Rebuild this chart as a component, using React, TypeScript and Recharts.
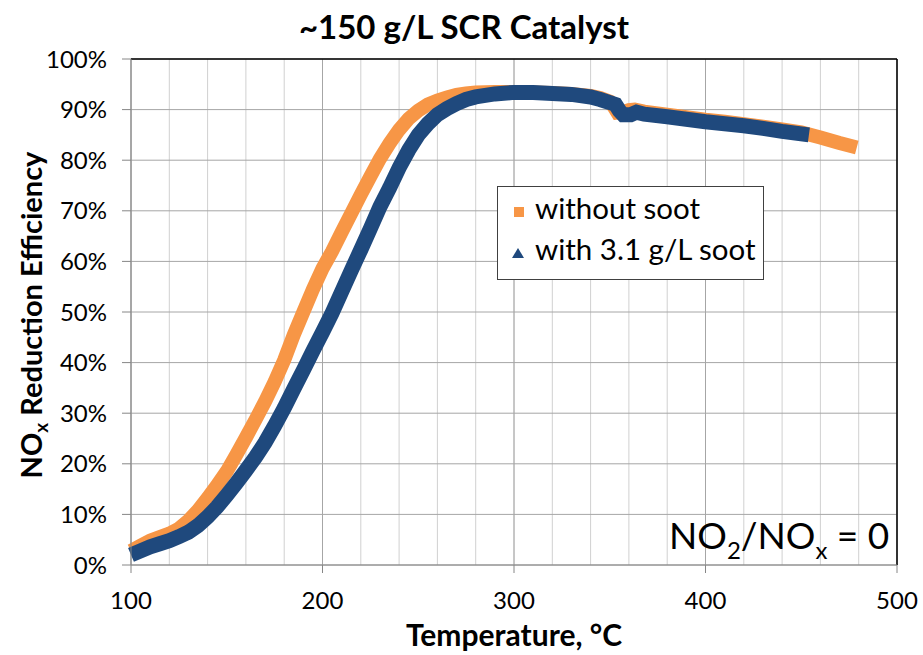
import { LineChart, Line, XAxis, YAxis, CartesianGrid, ReferenceLine, Legend, Label } from "recharts";

const FONT = "Lato, 'Open Sans', sans-serif";
const ORANGE = "#f79646";
const BLUE = "#1f497d";

// without soot
const cleanTemps = [
  100, 105, 110, 115, 120, 125, 130, 135, 140, 145,
  150, 155, 160, 165, 170, 175, 180, 185, 190, 195,
  200, 205, 210, 215, 220, 225, 230, 235, 240, 245,
  250, 255, 260, 265, 270, 275, 280, 290, 300, 310,
  320, 330, 340, 345, 350, 352, 354, 357, 360, 363,
  368, 380, 390, 400, 410, 420, 430, 440, 450, 460,
  470, 479,
];
const cleanEff = [
  2.8, 3.8, 4.8, 5.5, 6.2, 7.2, 8.8, 10.8, 13.2, 15.8,
  18.5, 21.8, 25.2, 28.7, 32.3, 36.2, 40.5, 45.5, 50.0, 54.5,
  58.6, 62.0, 65.8, 69.5, 73.2, 76.8, 80.3, 83.3, 86.0, 88.2,
  89.8, 91.0, 91.8, 92.4, 92.9, 93.2, 93.4, 93.5, 93.5, 93.4,
  93.3, 93.1, 92.7, 92.3, 91.6, 90.6, 89.4, 89.5, 89.9, 90.0,
  89.6, 89.0, 88.5, 88.0, 87.6, 87.1, 86.6, 86.1, 85.5, 84.5,
  83.4, 82.5,
];

// with 3.1 g/L soot
const sootTemps = [
  100, 105, 110, 115, 120, 125, 130, 135, 140, 145,
  150, 155, 160, 165, 170, 175, 180, 185, 190, 195,
  200, 205, 210, 215, 220, 225, 230, 235, 240, 245,
  250, 255, 260, 265, 270, 275, 280, 290, 300, 310,
  320, 330, 340, 345, 350, 353, 355, 357, 361, 364,
  368, 380, 390, 400, 410, 420, 430, 440, 450, 454,
];
const sootEff = [
  2.0, 2.8, 3.6, 4.2, 4.8, 5.6, 6.5, 7.8, 9.5, 11.5,
  13.8, 16.2, 18.7, 21.3, 24.2, 27.5, 31.0, 34.8, 38.5, 42.3,
  46.0, 49.8, 54.0, 58.2, 62.3, 66.5, 70.8, 74.5, 78.5, 82.0,
  85.0, 87.2, 89.0, 90.2, 91.2, 92.0, 92.5, 93.1, 93.4, 93.4,
  93.2, 93.0, 92.5, 92.0, 91.4, 91.0, 89.8, 89.0, 89.0, 89.5,
  89.1, 88.6, 88.1, 87.6, 87.2, 86.8, 86.3, 85.7, 85.2, 85.0,
];

const xTicks = [100, 200, 300, 400, 500];
const xMinorTicks = [
  100, 120, 140, 160, 180, 200, 220, 240, 260, 280,
  300, 320, 340, 360, 380, 400, 420, 440, 460, 480, 500,
];
const yTicks = [0, 10, 20, 30, 40, 50, 60, 70, 80, 90, 100];
const yMinorTicks = [
  0, 2, 4, 6, 8, 10, 12, 14, 16, 18, 20, 22, 24, 26, 28, 30, 32, 34, 36, 38,
  40, 42, 44, 46, 48, 50, 52, 54, 56, 58, 60, 62, 64, 66, 68, 70, 72, 74, 76,
  78, 80, 82, 84, 86, 88, 90, 92, 94, 96, 98, 100,
];

const seriesOrder = ["without soot", "with 3.1 g/L soot"];

const cleanData = cleanTemps.map((t, i) => ({ t, eff: cleanEff[i] }));
const sootData = sootTemps.map((t, i) => ({ t, eff: sootEff[i] }));

const tickStyle = { fill: "#000", fontSize: 24, fontFamily: FONT };

function LegendBox(props: any) {
  const items = [...(props.payload ?? [])].sort(
    (a: any, b: any) => seriesOrder.indexOf(a.value) - seriesOrder.indexOf(b.value)
  );
  return (
    <div
      style={{
        width: 267,
        height: 94,
        boxSizing: "border-box",
        border: "1px solid #404040",
        background: "#fff",
      }}
    >
      <svg width={265} height={92} style={{ display: "block" }}>
        {items.map((item: any, i: number) => {
          const cy = i === 0 ? 25 : 66;
          const icon =
            item.type === "triangle" ? (
              <polygon points={`14,${cy + 5} 26,${cy + 5} 20,${cy - 5}`} fill={item.color} />
            ) : (
              <rect x={16} y={cy - 5} width={10} height={10} fill={item.color} />
            );
          return (
            <g key={item.value}>
              {icon}
              <text x={37} y={cy + 7} fontSize={29.5} fontFamily={FONT} fill="#000">
                {item.value}
              </text>
            </g>
          );
        })}
      </svg>
    </div>
  );
}

function YTitle(props: any) {
  const { viewBox } = props;
  const cx = viewBox.x + 42;
  const cy = viewBox.y + viewBox.height / 2 + 3;
  return (
    <text
      x={cx}
      y={cy}
      transform={`rotate(-90, ${cx}, ${cy})`}
      textAnchor="middle"
      fontSize={29}
      fontWeight={700}
      fontFamily={FONT}
      fill="#000"
    >
      NO
      <tspan fontSize={19} dy={6}>x</tspan>
      <tspan dy={-6}> Reduction Efficiency</tspan>
    </text>
  );
}

function XTitle(props: any) {
  const { viewBox } = props;
  return (
    <text
      x={viewBox.x + viewBox.width / 2}
      y={viewBox.y + 81}
      textAnchor="middle"
      fontSize={30}
      fontWeight={700}
      fontFamily={FONT}
      fill="#000"
    >
      Temperature, °C
    </text>
  );
}

export default function App() {
  return (
    <div
      style={{
        position: "absolute",
        left: 0,
        top: 0,
        width: 923,
        height: 655,
        background: "#fff",
        fontFamily: FONT,
      }}
    >
      <LineChart width={923} height={655} margin={{ top: 59, right: 26, bottom: 0, left: 0 }}>
        <CartesianGrid xAxisId="minor" horizontal={false} stroke="#d0d0d0" />
        <CartesianGrid stroke="#a6a6a6" />
        <XAxis
          xAxisId="minor"
          type="number"
          dataKey="t"
          domain={[100, 500]}
          ticks={xMinorTicks}
          allowDataOverflow
          hide
        />
        <XAxis
          type="number"
          dataKey="t"
          domain={[100, 500]}
          ticks={xTicks}
          height={90}
          tickSize={8}
          tickMargin={19}
          tick={tickStyle}
          axisLine={{ stroke: "#868686" }}
          tickLine={{ stroke: "#868686" }}
        >
          <Label content={XTitle} />
        </XAxis>
        <YAxis
          type="number"
          domain={[0, 100]}
          ticks={yTicks}
          width={131}
          tickSize={9}
          tickMargin={15}
          tick={tickStyle}
          tickFormatter={(v: number) => `${v}%`}
          axisLine={{ stroke: "#868686" }}
          tickLine={{ stroke: "#868686" }}
        >
          <Label content={YTitle} />
        </YAxis>
        <YAxis
          yAxisId="minor"
          type="number"
          domain={[0, 100]}
          ticks={yMinorTicks}
          allowDataOverflow
          mirror
          width={1}
          tickSize={6}
          tick={false}
          axisLine={false}
          tickLine={{ stroke: "#868686" }}
        />
        <ReferenceLine y={100} stroke="#000" strokeWidth={1.5} />
        <ReferenceLine x={500} stroke="#000" strokeWidth={1.5} />
        <Legend
          layout="vertical"
          align="center"
          verticalAlign="middle"
          wrapperStyle={{ left: 497, top: 186 }}
          content={LegendBox}
        />
        <Line
          data={cleanData}
          dataKey="eff"
          name="without soot"
          type="linear"
          stroke={ORANGE}
          strokeWidth={14}
          dot={false}
          legendType="square"
          isAnimationActive={false}
        />
        <Line
          data={sootData}
          dataKey="eff"
          name="with 3.1 g/L soot"
          type="linear"
          stroke={BLUE}
          strokeWidth={15}
          dot={false}
          legendType="triangle"
          isAnimationActive={false}
        />
      </LineChart>
      <svg
        width={923}
        height={655}
        style={{ position: "absolute", left: 0, top: 0, pointerEvents: "none" }}
      >
        <text x={464} y={39} textAnchor="middle" fontSize={33} fontWeight={700} fontFamily={FONT} fill="#000">
          ~150 g/L SCR Catalyst
        </text>
        <text x={669} y={549} fontSize={37} fontFamily={FONT} fill="#000">
          NO
          <tspan fontSize={24} dy={10}>2</tspan>
          <tspan dy={-10}>/NO</tspan>
          <tspan fontSize={24} dy={10}>x</tspan>
          <tspan dy={-10}> = 0</tspan>
        </text>
      </svg>
    </div>
  );
}
